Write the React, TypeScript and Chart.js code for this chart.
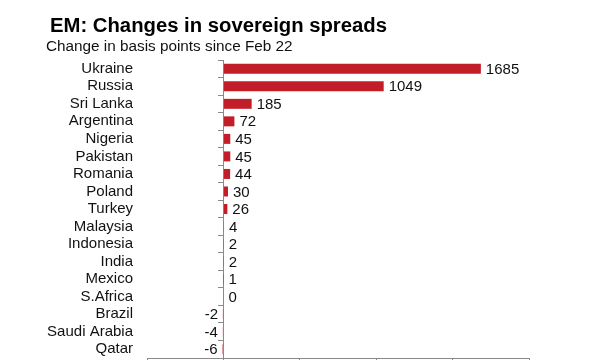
import React, { useEffect, useRef } from "react";
import { Chart, registerables } from "chart.js";

Chart.register(...registerables);

const countries = [
  "Ukraine", "Russia", "Sri Lanka", "Argentina", "Nigeria", "Pakistan", "Romania",
  "Poland", "Turkey", "Malaysia", "Indonesia", "India", "Mexico", "S.Africa",
  "Brazil", "Saudi Arabia", "Qatar",
];
const spreadChanges = [1685, 1049, 185, 72, 45, 45, 44, 30, 26, 4, 2, 2, 1, 0, -2, -4, -6];
const xMin = -500;
const xMax = 2000;
const xStep = 500;

const titleText = "EM: Changes in sovereign spreads";
const subtitleText = "Change in basis points since Feb 22";

const FONT = "'Liberation Sans', Arial, Helvetica, sans-serif";
const BAR_COLOR = "#C21E29";
const AXIS_COLOR = "#8a8a8a";
const TEXT_COLOR = "#111111";

const valueLabels = {
  id: "valueLabels",
  afterDatasetsDraw(chart: any) {
    const ctx = chart.ctx;
    const meta = chart.getDatasetMeta(0);
    const data = chart.data.datasets[0].data as number[];
    ctx.save();
    ctx.font = `15px ${FONT}`;
    ctx.fillStyle = TEXT_COLOR;
    ctx.textBaseline = "middle";
    meta.data.forEach((el: any, i: number) => {
      const v = data[i];
      if (v < 0) {
        ctx.textAlign = "right";
        ctx.fillText(String(v), el.x - 5, el.y + 1);
      } else {
        ctx.textAlign = "left";
        ctx.fillText(String(v), el.x + 5, el.y + 1);
      }
    });
    ctx.restore();
  },
};

export default function App() {
  const ref = useRef<HTMLCanvasElement | null>(null);

  useEffect(() => {
    if (!ref.current) return;
    const chart = new Chart(ref.current, {
      type: "bar",
      data: {
        labels: countries,
        datasets: [
          {
            data: spreadChanges,
            backgroundColor: BAR_COLOR,
            borderWidth: 0,
            barPercentage: 0.6,
            categoryPercentage: 0.95,
            xAxisID: "x",
            yAxisID: "y",
          },
        ],
      },
      options: {
        indexAxis: "y",
        animation: false,
        responsive: false,
        layout: { padding: { top: 60, right: 75, left: 0, bottom: 0 } },
        plugins: {
          legend: { display: false },
          tooltip: { enabled: false },
          title: { display: false },
        },
        scales: {
          x: {
            type: "linear",
            position: "bottom",
            min: xMin,
            max: xMax,
            ticks: { stepSize: xStep, color: TEXT_COLOR, font: { family: FONT, size: 15 } },
            grid: { drawOnChartArea: false, drawTicks: true, tickLength: 6, color: AXIS_COLOR },
            border: { display: true, color: AXIS_COLOR, width: 1 },
            afterFit: (s: any) => {
              s.height = 30;
            },
          },
          y: {
            type: "category",
            position: "left",
            ticks: {
              color: TEXT_COLOR,
              padding: 14,
              font: { family: FONT, size: 15 },
              autoSkip: false,
            },
            grid: { display: false, drawTicks: false },
            border: { display: false },
            afterFit: (s: any) => {
              s.width = 147;
            },
          },
          y2: {
            type: "category",
            axis: "y",
            position: { x: 0 } as any,
            offset: true,
            ticks: { display: false },
            grid: {
              drawOnChartArea: false,
              offset: true,
              tickLength: 5,
              color: AXIS_COLOR,
            },
            border: { display: true, color: AXIS_COLOR, width: 1 },
          },
        } as any,
      },
      plugins: [valueLabels],
    });
    return () => chart.destroy();
  }, []);

  return (
    <div
      style={{
        position: "fixed",
        left: 0,
        top: 0,
        width: 604,
        height: 360,
        overflow: "hidden",
        background: "#fff",
      }}
    >
      <canvas ref={ref} width={604} height={388} style={{ position: "absolute", left: 0, top: 0 }} />
      <div
        style={{
          position: "absolute",
          left: 50,
          top: 15,
          fontFamily: FONT,
          fontWeight: "bold",
          fontSize: 20.3,
          lineHeight: 1,
          color: "#000",
          whiteSpace: "nowrap",
        }}
      >
        {titleText}
      </div>
      <div
        style={{
          position: "absolute",
          left: 46,
          top: 38,
          fontFamily: FONT,
          fontSize: 15.3,
          lineHeight: 1,
          color: TEXT_COLOR,
          whiteSpace: "nowrap",
        }}
      >
        {subtitleText}
      </div>
    </div>
  );
}
